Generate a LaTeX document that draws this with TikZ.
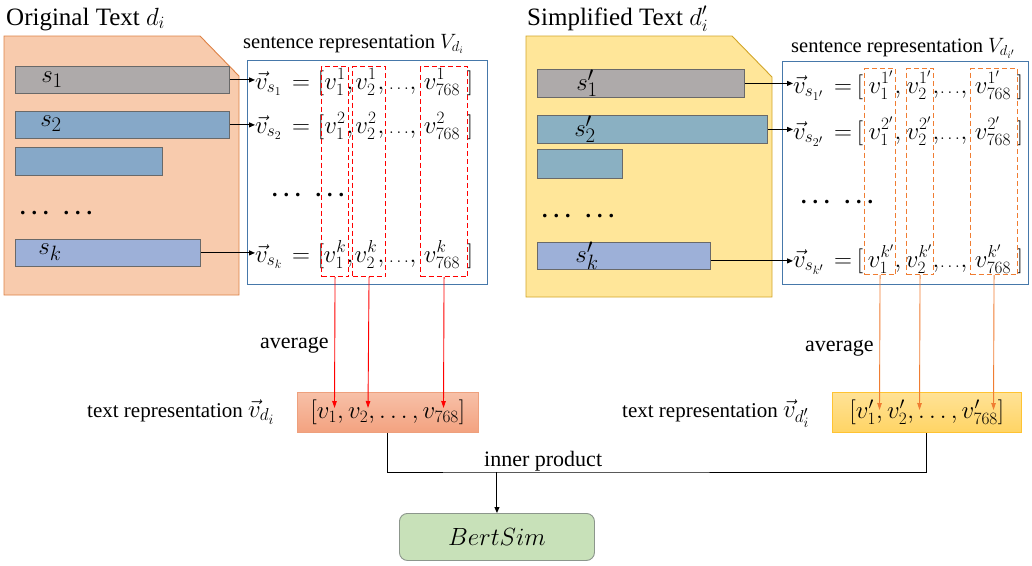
\documentclass[tikz,border=0pt]{standalone}
\usepackage{fontspec}
\setmainfont{Liberation Serif}
\usetikzlibrary{arrows.meta,calc}
\definecolor{docO}{RGB}{248,203,173}
\definecolor{docOb}{RGB}{222,130,70}
\definecolor{docY}{RGB}{255,230,153}
\definecolor{docYb}{RGB}{210,165,40}
\definecolor{barG}{RGB}{174,170,170}
\definecolor{barB}{RGB}{134,168,200}
\definecolor{barT}{RGB}{138,176,194}
\definecolor{barP}{RGB}{157,176,216}
\definecolor{barE}{RGB}{105,105,105}
\definecolor{repB}{RGB}{70,120,170}
\definecolor{dRed}{RGB}{255,0,0}
\definecolor{dOr}{RGB}{240,125,50}
\definecolor{simG}{RGB}{200,225,185}
\definecolor{simGb}{RGB}{140,150,140}
\definecolor{tLt}{RGB}{247,192,168}
\definecolor{tLb}{RGB}{243,162,128}
\definecolor{tLe}{RGB}{238,160,125}
\definecolor{tRt}{RGB}{255,226,150}
\definecolor{tRb}{RGB}{255,212,100}
\definecolor{tRe}{RGB}{255,195,50}
\newcommand{\tdots}{.\hspace{6pt}.\hspace{6pt}.\hspace{15pt}.\hspace{6pt}.\hspace{6pt}.}
\newcommand{\sdots}{{\fontsize{16}{20}\selectfont$\dots$}}
\newcommand{\eqrowL}[8]{%
  \node[eq,anchor=base west] (#1-l) at (255,#2) {$#3$};
  \node[eq,anchor=base] (#1-q) at (301,#2) {$=$};
  \node[eq,anchor=base] (#1-lb) at (321,#2) {$#7$};
  \node[eq,anchor=base] (#1-a) at (335,#2) {$#4$};
  \node[eq,anchor=base] (#1-c1) at (350,#2) {$,$};
  \node[eq,anchor=base] (#1-b) at (366,#2) {$#5$};
  \node[eq,anchor=base] (#1-c2) at (381,#2) {$,$};
  \node[eq,anchor=base] (#1-d) at (399,#2) {\sdots};
  \node[eq,anchor=base] (#1-c3) at (413,#2) {$,$};
  \node[eq,anchor=base] (#1-e) at (442,#2) {$#6$};
  \node[eq,anchor=base] (#1-rb) at (470,#2) {$#8$};}
\newcommand{\eqrowR}[8]{%
  \node[eq,anchor=base west] (#1-l) at (793,#2) {$#3$};
  \node[eq,anchor=base] (#1-q) at (843,#2) {$=$};
  \node[eq,anchor=base] (#1-lb) at (860,#2) {$#7$};
  \node[eq,anchor=base] (#1-a) at (881,#2) {$#4$};
  \node[eq,anchor=base] (#1-c1) at (898,#2) {$,$};
  \node[eq,anchor=base] (#1-b) at (919,#2) {$#5$};
  \node[eq,anchor=base] (#1-c2) at (936,#2) {$,$};
  \node[eq,anchor=base] (#1-d) at (950,#2) {\sdots};
  \node[eq,anchor=base] (#1-c3) at (964,#2) {$,$};
  \node[eq,anchor=base] (#1-e) at (993,#2) {$#6$};
  \node[eq,anchor=base] (#1-rb) at (1020,#2) {$#8$};}
\begin{document}
\begin{tikzpicture}[x=1pt,y=-1pt,
  eq/.style={font=\fontsize{25}{30}\selectfont, inner sep=0pt},
  title/.style={font=\fontsize{25}{30}\selectfont, inner sep=0pt},
  lbl/.style={font=\fontsize{20.5}{24}\selectfont, inner sep=0pt},
  lbl2/.style={font=\fontsize{22}{26}\selectfont, inner sep=0pt},
  bar/.style={draw=barE, line width=0.8pt, inner sep=0pt, anchor=north west},
  slbl/.style={font=\fontsize{28}{32}\selectfont, inner sep=0pt},
  dots/.style={font=\fontsize{22}{26}\selectfont\bfseries, inner sep=0pt, anchor=base west},
  repbox/.style={draw=repB, line width=1.2pt, inner sep=0pt, anchor=north west},
  rdash/.style={draw=dRed, dashed, dash pattern=on 5pt off 3pt, line width=1.1pt, inner sep=0pt, anchor=north west},
  odash/.style={draw=dOr, dashed, dash pattern=on 5pt off 3pt, line width=1.1pt, inner sep=0pt, anchor=north west},
  arr/.style={draw=black, line width=1pt, -{Triangle[length=6pt,width=5pt]}},
  rarr/.style={draw=dRed, line width=0.9pt, -{Triangle[length=7pt,width=4.5pt]}},
  oarr/.style={draw=dOr, line width=0.9pt, -{Triangle[length=7pt,width=4.5pt]}},
  line/.style={draw=black, line width=1pt}
]
\useasboundingbox (0,0) rectangle (1032,565);

% ---------- left document ----------
\draw[fill=docO, draw=docOb, line width=0.9pt] (4,36) -- (200,36) -- (239,76) -- (239,295) -- (4,295) -- cycle;
\node[title, anchor=base west] (tO) at (6,25) {Original Text $d_i$};
\node[bar, fill=barG, minimum width=214, minimum height=27] (lb1) at (15,66) {};
\node[bar, fill=barB, minimum width=214, minimum height=27] (lb2) at (15,111) {};
\node[bar, fill=barB, minimum width=147, minimum height=28] (lb3) at (15,147) {};
\node[bar, fill=barP, minimum width=185, minimum height=27] (lbk) at (15,239) {};
\node[slbl] (ls1) at (52,80) {$s_1$};
\node[slbl] (ls2) at (51,124) {$s_2$};
\node[slbl] (lsk) at (50,252) {$s_k$};
\node[dots] (ldd) at (20,214) {\tdots};

% ---------- left sentence representation ----------
\node[lbl, anchor=base west] (lsr) at (243,48) {sentence representation $V_{d_i}$};
\node[repbox, minimum width=240, minimum height=224] (lrep) at (247,60) {};
\eqrowL{lr1}{89}{\vec v_{s_1}}{v_1^1}{v_2^1}{v_{768}^1}{[}{]}
\eqrowL{lr2}{133}{\vec v_{s_2}}{v_1^2}{v_2^2}{v_{768}^2}{[}{]}
\eqrowL{lrk}{262}{\vec v_{s_k}}{v_1^k}{v_2^k}{v_{768}^k}{\bigl[}{\bigr]}
\node[dots] (lrd) at (272,196) {\tdots};
\node[rdash, minimum width=27, minimum height=210] (lc1) at (321,66) {};
\node[rdash, minimum width=33, minimum height=210] (lc2) at (352,66) {};
\node[rdash, minimum width=47, minimum height=210] (lc3) at (420,66) {};
\draw[arr] (lb1.east) -- (lb1.east -| lr1-l.west);
\draw[arr] (lb2.east) -- (lb2.east -| lr2-l.west);
\draw[arr] (lbk.east) -- (lbk.east -| lrk-l.west);

% ---------- right document ----------
\draw[fill=docY, draw=docYb, line width=0.9pt] (526,36) -- (732,36) -- (772,77) -- (772,297) -- (526,297) -- cycle;
\node[title, anchor=base west] (tS) at (527,25) {Simplified Text $d_i'$};
\node[bar, fill=barG, minimum width=207, minimum height=28] (rb1) at (537,69) {};
\node[bar, fill=barT, minimum width=230, minimum height=28] (rb2) at (537,115) {};
\node[bar, fill=barT, minimum width=85, minimum height=29] (rb3) at (537,149) {};
\node[bar, fill=barP, minimum width=173, minimum height=27] (rbk) at (537,242) {};
\node[slbl] (rs1) at (587,83) {$s_1'$};
\node[slbl] (rs2) at (585,129) {$s_2'$};
\node[slbl] (rsk) at (587,256) {$s_k'$};
\node[dots] (rdd) at (542,217) {\tdots};

% ---------- right sentence representation ----------
\node[lbl, anchor=base west] (rsr) at (791,52) {sentence representation $V_{d_{i'}}$};
\node[repbox, minimum width=246, minimum height=223] (rrep) at (782,61) {};
\eqrowR{rr1}{93}{\vec v_{s_{1'}}}{v_1^{1'}}{v_2^{1'}}{v_{768}^{1'}}{[}{]}
\eqrowR{rr2}{139}{\vec v_{s_{2'}}}{v_1^{2'}}{v_2^{2'}}{v_{768}^{2'}}{[}{]}
\eqrowR{rrk}{267}{\vec v_{s_{k'}}}{v_1^{k'}}{v_2^{k'}}{v_{768}^{k'}}{\bigl[}{\bigr]}
\node[dots] (rrd) at (801,203) {\tdots};
\node[odash, minimum width=31, minimum height=206] (rc1) at (864,68) {};
\node[odash, minimum width=27, minimum height=206] (rc2) at (906,68) {};
\node[odash, minimum width=47, minimum height=206] (rc3) at (970,68) {};
\draw[arr] (rb1.east) -- (rb1.east -| rr1-l.west);
\draw[arr] (rb2.east) -- (rb2.east -| rr2-l.west);
\draw[arr] ([yshift=-5pt]rbk.east) -- ([yshift=-5pt]rbk.east -| rrk-l.west);

% ---------- text representations ----------
\node[lbl2, anchor=base west] (lavg) at (260,348) {average};
\node[lbl2, anchor=base west] (ravg) at (805,351) {average};
\node[draw=tLe, line width=0.8pt, top color=tLt, bottom color=tLb, minimum width=181, minimum height=40, anchor=north west, inner sep=0pt, font=\fontsize{23}{27}\selectfont] (tl) at (297,392) {$[v_1, v_2, \dots, v_{768}]$};
\node[draw=tRe, line width=0.8pt, top color=tRt, bottom color=tRb, minimum width=189, minimum height=40, anchor=north west, inner sep=0pt, font=\fontsize{23}{27}\selectfont] (tr) at (832,392) {$[v_1', v_2', \dots, v_{768}']$};
\node[anchor=base west, inner sep=0pt] (ltr) at (87,417) {\fontsize{21}{25}\selectfont text representation \fontsize{27}{30}\selectfont$\vec v_{d_i}$};
\node[anchor=base west, inner sep=0pt] (rtr) at (622,417) {\fontsize{21}{25}\selectfont text representation \fontsize{27}{30}\selectfont$\vec v_{d_i'}$};

\coordinate (lt1) at (334.5,408);
\coordinate (lt2) at (368,408);
\coordinate (lt3) at (443.5,408);
\coordinate (rt1) at (879.5,410);
\coordinate (rt2) at (919.5,410);
\coordinate (rt3) at (993.5,410);
\draw[rarr] (lc1.south) -- (lt1);
\draw[rarr] (lc2.south) -- (lt2);
\draw[rarr] (lc3.south) -- (lt3);
\draw[oarr] (rc1.south) -- (rt1);
\draw[oarr] (rc2.south) -- (rt2);
\draw[oarr] (rc3.south) -- (rt3);

% ---------- inner product ----------
\node[draw=simGb, line width=0.9pt, fill=simG, rounded corners=8pt, minimum width=195, minimum height=47, anchor=north west, inner sep=0pt, font=\fontsize{26}{30}\selectfont] (bs) at (399,513) {$BertSim$};
\coordinate (ip) at (bs.north |- 0,472);
\draw[line] (tl.south) |- (ip) -| (tr.south);
\draw[arr] (ip) -- (bs.north);
\node[lbl2, anchor=base west] (ipl) at (484,466) {inner product};
\end{tikzpicture}
\end{document}
